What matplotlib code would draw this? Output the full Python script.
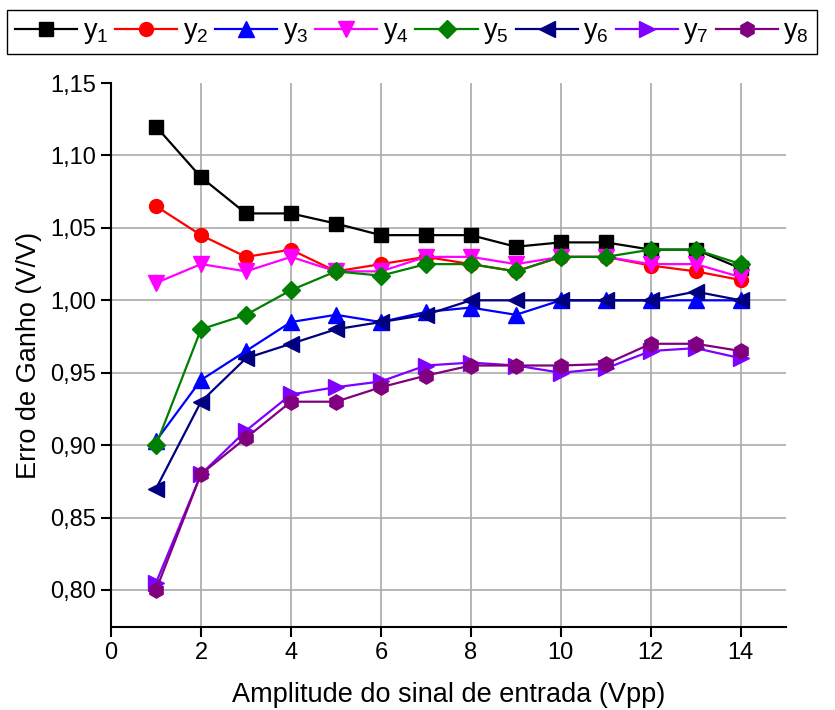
import numpy as np
import matplotlib
matplotlib.use('Agg')
import matplotlib.pyplot as plt

plt.rcParams['font.family'] = ['Liberation Sans', 'DejaVu Sans']
plt.rcParams['mathtext.fontset'] = 'custom'
plt.rcParams['mathtext.rm'] = 'Liberation Sans'
plt.rcParams['mathtext.it'] = 'Liberation Sans'

x = np.arange(1, 15)

# valores
y1 = [1.120, 1.085, 1.060, 1.060, 1.053, 1.045, 1.045, 1.045, 1.037, 1.040, 1.040, 1.035, 1.035, 1.022]
y2 = [1.065, 1.045, 1.030, 1.035, 1.020, 1.025, 1.030, 1.025, 1.020, 1.030, 1.030, 1.024, 1.020, 1.014]
y3 = [0.903, 0.945, 0.965, 0.985, 0.990, 0.985, 0.992, 0.995, 0.990, 1.000, 1.000, 1.000, 1.000, 1.000]
y4 = [1.012, 1.025, 1.020, 1.030, 1.020, 1.020, 1.030, 1.030, 1.025, 1.030, 1.030, 1.025, 1.025, 1.016]
y5 = [0.900, 0.980, 0.990, 1.007, 1.020, 1.017, 1.025, 1.025, 1.020, 1.030, 1.030, 1.035, 1.035, 1.025]
y6 = [0.870, 0.930, 0.960, 0.970, 0.980, 0.985, 0.990, 1.000, 1.000, 1.000, 1.000, 1.000, 1.006, 1.000]
y7 = [0.805, 0.880, 0.910, 0.935, 0.940, 0.944, 0.955, 0.957, 0.955, 0.950, 0.953, 0.965, 0.967, 0.960]
y8 = [0.800, 0.880, 0.905, 0.930, 0.930, 0.940, 0.948, 0.955, 0.955, 0.955, 0.956, 0.970, 0.970, 0.965]

series = [y1, y2, y3, y4, y5, y6, y7, y8]
labels = ['y$_1$', 'y$_2$', 'y$_3$', 'y$_4$', 'y$_5$', 'y$_6$', 'y$_7$', 'y$_8$']
colors = ['black', 'red', 'blue', '#FF00FF', '#008000', '#000080', '#8000FF', '#800080']
markers = ['s', 'o', '^', 'v', 'D', '<', '>', 'h']
msizes = [10, 10, 11, 11, 9, 11, 11, 11]

yticks = np.arange(0.80, 1.151, 0.05)

fig = plt.figure(figsize=(8.35, 7.1), dpi=100)
ax = fig.add_axes([0.133, 0.117, 0.808, 0.766])

for ys, lab, c, m, ms in zip(series, labels, colors, markers, msizes):
    ax.plot(x, ys, color=c, marker=m, markersize=ms, linewidth=1.6, label=lab)

ax.set_xlim(0, 15)
ax.set_ylim(0.7745, 1.15)
ax.set_xticks(np.arange(0, 15, 2))
ax.set_yticks(yticks)
ax.set_yticklabels([('%.2f' % v).replace('.', ',') for v in yticks])
ax.grid(True, color='#aaaaaa', linewidth=1.2)
ax.set_axisbelow(True)
ax.yaxis.get_gridlines()[-1].set_visible(False)
for s in ['top', 'right']:
    ax.spines[s].set_visible(False)
for s in ['left', 'bottom']:
    ax.spines[s].set_linewidth(1.5)
ax.tick_params(direction='out', length=7, width=1.5, labelsize=17)

ax.set_xlabel('Amplitude do sinal de entrada (Vpp)', fontsize=19.5, labelpad=13)
ax.set_ylabel('Erro de Ganho (V/V)', fontsize=19.5, labelpad=6)

leg = fig.legend(loc='upper left', bbox_to_anchor=(7 / 835, 1 - 10 / 710), ncol=8,
                 fontsize=19.5, handlelength=2.3, handletextpad=0.2, columnspacing=0.25,
                 fancybox=False, edgecolor='black', framealpha=1, borderpad=0.3,
                 borderaxespad=0)
leg.get_frame().set_linewidth(1.0)

plt.savefig('out.png', dpi=100)
